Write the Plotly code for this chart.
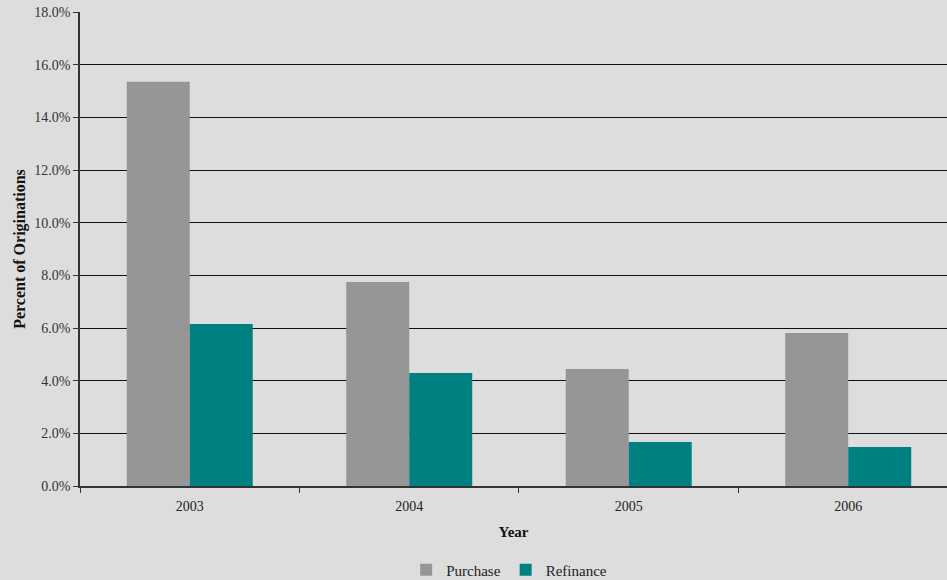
import plotly.graph_objects as go

years = ["2003", "2004", "2005", "2006"]
purchase = [15.35, 7.75, 4.44, 5.81]
refinance = [6.15, 4.29, 1.67, 1.48]

FONT = "Liberation Serif"

fig = go.Figure()
fig.add_trace(go.Bar(x=years, y=purchase, name="Purchase", marker_color="#969696", marker_line_width=0))
fig.add_trace(go.Bar(x=years, y=refinance, name="Refinance", marker_color="#008080", marker_line_width=0))

fig.update_layout(
    width=947, height=580,
    margin=dict(l=80, r=0, t=12, b=94, autoexpand=False),
    paper_bgcolor="#DDDDDD", plot_bgcolor="#DDDDDD",
    barmode="group", bargap=0.426, bargroupgap=0,
    font=dict(family=FONT, size=14, color="#222222"),
    showlegend=True,
    legend=dict(orientation="h", x=0.495, xanchor="center", y=-0.177, yanchor="middle",
                font=dict(family=FONT, size=15, color="#222222"), bgcolor="rgba(0,0,0,0)",
                itemwidth=30, traceorder="normal"),
    xaxis=dict(
        type="category", range=[-0.5, 3.45],
        showline=True, linecolor="#333333", linewidth=1.5,
        ticks="outside", tickson="boundaries", ticklen=5, tickcolor="#333333",
        ticklabelstandoff=6,
        showgrid=False,
        tickfont=dict(family=FONT, size=14, color="#222222"),
        title=dict(text="<b>Year</b>", font=dict(family=FONT, size=15, color="#111111"), standoff=14),
    ),
    yaxis=dict(
        range=[0, 18], dtick=2, tickformat=".1f", ticksuffix="%",
        showline=True, linecolor="#333333", linewidth=1.5,
        ticks="outside", ticklen=5, tickcolor="#333333",
        showgrid=True, gridcolor="#111111", gridwidth=1,
        zeroline=False,
        tickfont=dict(family=FONT, size=14, color="#333333"),
        title=dict(text="<b>Percent of Originations</b>", font=dict(family=FONT, size=16, color="#111111"), standoff=5),
    ),
)

fig.write_html("out.html", config={"displayModeBar": False})

# remove the browser's default body margin so the figure fills the window
with open("out.html", encoding="utf-8") as f:
    html = f.read()
html = html.replace("<body>", '<body style="margin:0;padding:0;overflow:hidden;">', 1)
with open("out.html", "w", encoding="utf-8") as f:
    f.write(html)
